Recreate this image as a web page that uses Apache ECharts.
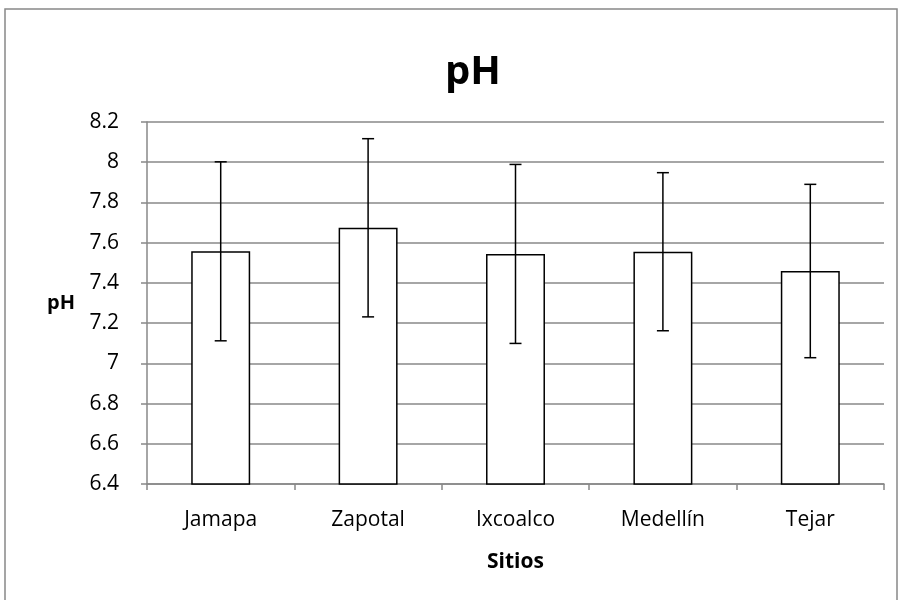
<!DOCTYPE html>
<html>
<head>
<meta charset="utf-8">
<script src="https://cdn.jsdelivr.net/npm/echarts@6/dist/echarts.min.js"></script>
<style>
  html, body { margin: 0; padding: 0; background: #fff; }
  #main { width: 902px; height: 600px; }
</style>
</head>
<body>
<div id="main"></div>
<script>
// datos del gráfico
var sitios = ['Jamapa', 'Zapotal', 'Ixcoalco', 'Medellín', 'Tejar'];
var phMedia = [7.557, 7.674, 7.544, 7.555, 7.459];
var phError = [0.445, 0.443, 0.445, 0.393, 0.431];
var yTicks = [6.4, 6.6, 6.8, 7, 7.2, 7.4, 7.6, 7.8, 8, 8.2];

var fuente = 'Open Sans';
var chart = echarts.init(document.getElementById('main'));

var errData = sitios.map(function (s, i) {
  return [i, phMedia[i] - phError[i], phMedia[i] + phError[i]];
});

var option = {
  animation: false,
  backgroundColor: '#fff',
  graphic: [{
    type: 'rect',
    shape: { x: 5, y: 9, width: 892, height: 600 },
    style: { fill: 'none', stroke: '#888', lineWidth: 1.5 },
    silent: true
  }],
  title: {
    text: 'pH',
    left: 468,
    top: 48,
    textAlign: 'center',
    textStyle: { fontFamily: fuente, fontSize: 40, fontWeight: 'bold', color: '#000' }
  },
  grid: { left: 147, right: 18, top: 122, bottom: 116 },
  xAxis: {
    type: 'category',
    data: sitios,
    name: 'Sitios',
    nameLocation: 'middle',
    nameGap: 68,
    nameTextStyle: { fontFamily: fuente, fontSize: 21, fontWeight: 'bold', color: '#000' },
    axisLine: { lineStyle: { color: '#888', width: 1.5 } },
    axisTick: { show: true, length: 6, lineStyle: { color: '#888', width: 1.5 } },
    axisLabel: { fontFamily: fuente, fontSize: 21, color: '#000', margin: 26 }
  },
  yAxis: {
    type: 'value',
    min: 6.4,
    max: 8.2,
    interval: 0.2,
    name: 'pH',
    nameLocation: 'middle',
    nameGap: 72,
    nameRotate: 0,
    nameTextStyle: { fontFamily: fuente, fontSize: 20, fontWeight: 'bold', color: '#000' },
    axisLine: { show: true, lineStyle: { color: '#888', width: 1.5 } },
    axisTick: { show: true, length: 6, lineStyle: { color: '#888', width: 1.5 } },
    splitLine: { lineStyle: { color: '#888', width: 1.5 } },
    axisLabel: {
      fontFamily: fuente, fontSize: 21, color: '#000', margin: 28,
      formatter: function (v) {
        var r = Math.round(v * 10) / 10;
        return yTicks.indexOf(r) >= 0 ? String(r) : '';
      }
    }
  },
  series: [{
    type: 'bar',
    data: phMedia,
    barWidth: '40%',
    itemStyle: { color: '#fff', borderColor: '#000', borderWidth: 1.5 },
    z: 2
  }, {
    type: 'custom',
    data: errData,
    z: 3,
    renderItem: function (params, api) {
      var x = api.value(0);
      var lo = api.coord([x, api.value(1)]);
      var hi = api.coord([x, api.value(2)]);
      var w = 6;
      var st = { stroke: '#000', lineWidth: 1.5 };
      return {
        type: 'group',
        children: [
          { type: 'line', shape: { x1: hi[0], y1: hi[1], x2: lo[0], y2: lo[1] }, style: st },
          { type: 'line', shape: { x1: hi[0] - w, y1: hi[1], x2: hi[0] + w, y2: hi[1] }, style: st },
          { type: 'line', shape: { x1: lo[0] - w, y1: lo[1], x2: lo[0] + w, y2: lo[1] }, style: st }
        ]
      };
    }
  }]
};

chart.setOption(option);
</script>
</body>
</html>
